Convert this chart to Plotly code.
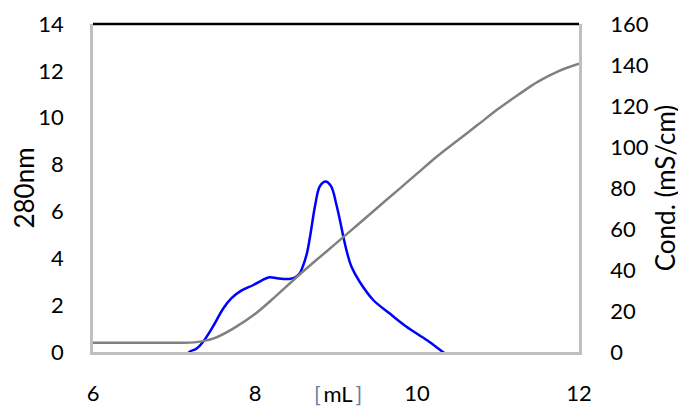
import plotly.graph_objects as go

# 280 nm absorbance trace (left axis)
uv_ml = [7.10, 7.19, 7.28, 7.36, 7.48, 7.61, 7.71, 7.83, 7.98, 8.08, 8.18, 8.27, 8.35, 8.42, 8.49,
         8.55, 8.59, 8.64, 8.68, 8.74, 8.80, 8.87, 8.94, 9.00, 9.05, 9.09, 9.14, 9.19, 9.29,
         9.46, 9.66, 9.87, 10.12, 10.32, 10.40]
uv_abs = [-0.40, 0.00, 0.15, 0.44, 1.08, 1.87, 2.30, 2.62, 2.86, 3.05, 3.19, 3.15, 3.12, 3.12, 3.18,
          3.35, 3.65, 4.20, 4.93, 6.21, 7.07, 7.28, 7.07, 6.36, 5.60, 4.93, 4.20, 3.65, 3.01,
          2.22, 1.65, 1.08, 0.51, 0.00, -0.20]

# conductivity trace (right axis)
cond_ml = [6.00, 6.50, 7.00, 7.25, 7.50, 7.75, 8.00, 8.25, 8.50, 8.75, 9.00, 9.25, 9.50,
           9.75, 10.00, 10.25, 10.50, 10.75, 11.00, 11.25, 11.50, 11.75, 12.00]
cond_val = [4.5, 4.5, 4.5, 4.7, 6.8, 11.9, 18.5, 27.0, 36.0, 44.6, 53.0, 61.5, 70.0,
            78.5, 87.0, 95.5, 103.2, 110.8, 118.5, 125.5, 132.0, 137.0, 140.6]

x_ticks = [6, 8, 10, 12]
left_ticks = [0, 2, 4, 6, 8, 10, 12, 14]
right_ticks = [0, 20, 40, 60, 80, 100, 120, 140, 160]

font = dict(family="Lato, 'Open Sans', sans-serif", size=22, color="black")
frame_gray = "#BFBFBF"

fig = go.Figure()
fig.add_trace(go.Scatter(x=cond_ml, y=cond_val, yaxis="y2", mode="lines", line_shape="spline",
                         line=dict(color="#808080", width=2.5)))
fig.add_trace(go.Scatter(x=uv_ml, y=uv_abs, mode="lines", line_shape="spline",
                         line=dict(color="#0000FF", width=2.5)))

# page body adds 8px, so the figure is 8px smaller and margins shifted
fig.update_layout(
    width=678, height=405,
    margin=dict(l=85, r=107, t=16, b=61),
    paper_bgcolor="white", plot_bgcolor="white",
    showlegend=False, font=font,
    xaxis=dict(range=[6, 12], tickvals=x_ticks, showgrid=False, zeroline=False,
               showline=True, linecolor=frame_gray, linewidth=2.5, automargin=False,
               ticks="", ticklabelstandoff=20),
    yaxis=dict(range=[0, 14], tickvals=left_ticks, showgrid=False, zeroline=False,
               showline=True, linecolor=frame_gray, linewidth=2.5, automargin=False,
               ticks="", ticklabelstandoff=22,
               title=dict(text="280nm", standoff=20)),
    yaxis2=dict(range=[0, 160], tickvals=right_ticks, overlaying="y", side="right",
                showgrid=False, zeroline=False, showline=True, linecolor=frame_gray,
                linewidth=2.5, ticks="", ticklabelstandoff=24, automargin=False,
                title=dict(text="Cond. (mS/cm)", standoff=10)),
)

# black top border
fig.add_shape(type="line", xref="paper", yref="paper", x0=0, x1=1, y0=1, y1=1,
              line=dict(color="black", width=2.5))

fig.add_annotation(xref="paper", yref="paper", x=0.505, y=-0.08, yanchor="top", showarrow=False,
                   text="<span style='color:#6A7FA0'>[</span>\u2009mL\u2009<span style='color:#6A7FA0'>]</span>",
                   font=font)

fig.write_html("out.html")
